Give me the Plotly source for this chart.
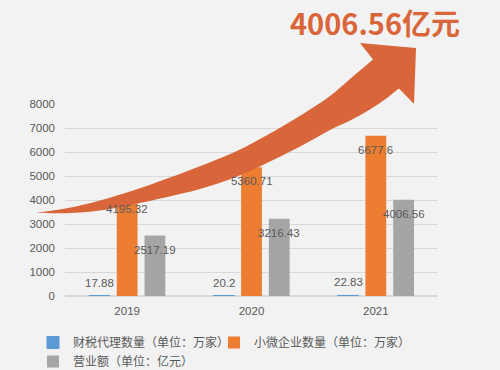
import plotly.graph_objects as go

years = ["2019", "2020", "2021"]
agents = [17.88, 20.2, 22.83]
smes = [4195.32, 5360.71, 6677.6]
revenue = [2517.19, 3216.43, 4006.56]
names = ["财税代理数量（单位：万家）", "小微企业数量（单位：万家）", "营业额（单位：亿元）"]
colors = ["#5B9BD5", "#ED7D31", "#A5A5A5"]
headline = "4006.56亿元"

W, H = 500, 370
L, R, T, B = 65, 62, 104, 74
PW, PH = W - L - R, H - T - B
BARGAP, GROUPGAP = 0.33, 0.25

def px2paper(x, y):
    return (x - L) / PW, (T + PH - y) / PH

fig = go.Figure()
series = [agents, smes, revenue]
legends = ["legend", "legend2", "legend"]
for i, (vals, nm, c) in enumerate(zip(series, names, colors)):
    fig.add_trace(go.Bar(
        x=years, y=vals, name=nm, legend=legends[i],
        marker=dict(color=c, line=dict(color=c, width=1 if i == 0 else 0)),
        hoverinfo="x+y+name",
    ))

# decorative curved arrow (pixel outline converted to paper coords, smoothed)
upper = [(36.7, 212.7), (66.7, 208.3), (100, 200.5), (133, 190.5), (170, 177.5), (203, 165),
         (237, 151), (270, 133.5), (303, 114), (330, 96), (350, 79), (373, 59.5)]
head = [(360, 43), (416, 48), (414, 104), (399, 88.5)]
lower = [(399, 88.5), (380, 103), (355, 118), (330, 130), (303, 145), (270, 161.5), (237, 176.5),
         (200, 189), (165, 197.5), (133, 204.5), (100, 210.5), (67, 213.2), (36.7, 212.7)]

def smooth(points):
    # Catmull-Rom -> cubic Bezier segments
    segs = []
    n = len(points)
    for k in range(n - 1):
        p0 = points[k - 1] if k > 0 else points[k]
        p1, p2 = points[k], points[k + 1]
        p3 = points[k + 2] if k + 2 < n else points[k + 1]
        c1 = (p1[0] + (p2[0] - p0[0]) / 6, p1[1] + (p2[1] - p0[1]) / 6)
        c2 = (p2[0] - (p3[0] - p1[0]) / 6, p2[1] - (p3[1] - p1[1]) / 6)
        segs.append((c1, c2, p2))
    return segs

def P(pt):
    x, y = px2paper(*pt)
    return f"{x:.4f},{y:.4f}"

path = "M" + P(upper[0])
for c1, c2, p in smooth(upper):
    path += f" C{P(c1)} {P(c2)} {P(p)}"
for p in head:
    path += " L" + P(p)
for c1, c2, p in smooth(lower):
    path += f" C{P(c1)} {P(c2)} {P(p)}"
path += " Z"
fig.add_shape(type="path", path=path, xref="paper", yref="paper",
              fillcolor="#D9663A", line=dict(width=0), layer="above")

# value labels (annotations so they sit above the arrow)
cat_w = PW / len(years)
slot = cat_w * (1 - BARGAP) / len(series)
for i, vals in enumerate(series):
    dx = (i - (len(series) - 1) / 2) * slot
    for j, v in enumerate(vals):
        fig.add_annotation(x=j, y=v, xref="x", yref="y", text=f"{v:g}", showarrow=False,
                           xshift=dx, yshift=13 if i == 0 else -14,
                           xanchor="center", yanchor="middle",
                           font=dict(family="Liberation Sans", size=11.5, color="#595959"))

hx, hy = px2paper(375, 22)
fig.add_annotation(text=f"<b>{headline}</b>", x=hx, y=hy, xref="paper", yref="paper",
                   showarrow=False, xanchor="center", yanchor="middle",
                   font=dict(family="Noto Sans CJK SC", size=29, color="#D9663A"))

lg_font = dict(family="Noto Sans CJK SC", size=12, color="#595959")
l1x, l1y = px2paper(33, 328)
l2x, l2y = px2paper(214, 328)
fig.update_layout(
    width=W, height=H,
    margin=dict(l=L, r=R, t=T, b=B, autoexpand=False),
    paper_bgcolor="#f2f2f2", plot_bgcolor="rgba(0,0,0,0)",
    barmode="group", bargap=BARGAP, bargroupgap=GROUPGAP,
    showlegend=True,
    legend=dict(orientation="v", x=l1x, y=l1y, xanchor="left", yanchor="top",
                tracegroupgap=0, traceorder="normal", font=lg_font,
                bgcolor="rgba(0,0,0,0)"),
    legend2=dict(orientation="v", x=l2x, y=l2y, xanchor="left", yanchor="top",
                 font=lg_font, bgcolor="rgba(0,0,0,0)"),
    font=dict(family="Liberation Sans", color="#595959"),
)
fig.update_yaxes(range=[0, 8000], dtick=1000, showgrid=True, gridcolor="#d9d9d9",
                 gridwidth=1, zeroline=True, zerolinecolor="#d9d9d9",
                 tickfont=dict(size=11.5, color="#595959"), ticklabelstandoff=9,
                 showline=False, fixedrange=True)
fig.update_xaxes(type="category", categoryorder="array", categoryarray=years,
                 range=[-0.5, len(years) - 0.5],
                 showline=False, tickfont=dict(size=11.5, color="#595959"),
                 ticklabelstandoff=6, fixedrange=True)

fig.write_html("out.html", config={"displayModeBar": False},
               post_script="document.body.style.margin='0';document.body.style.overflow='hidden';")
